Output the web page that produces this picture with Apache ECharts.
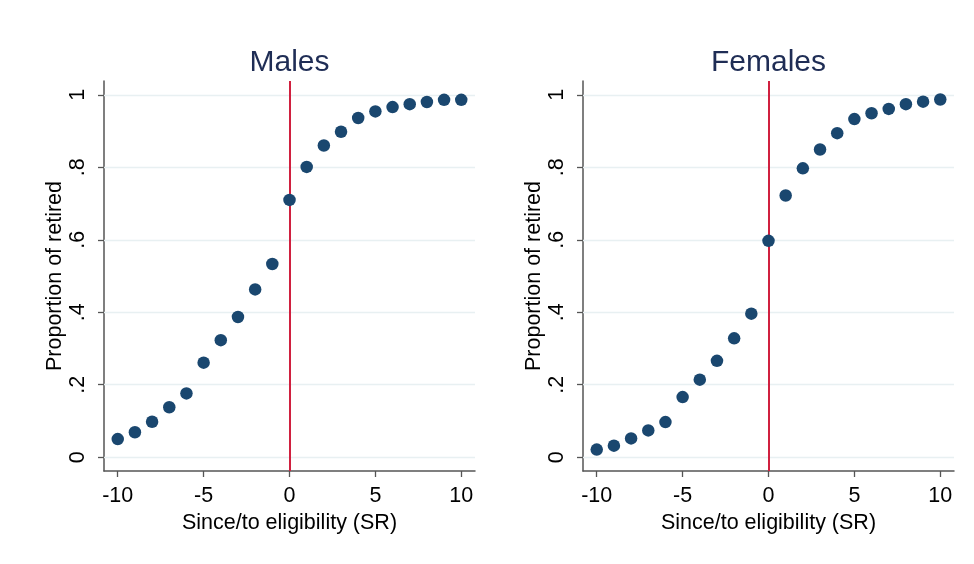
<!DOCTYPE html>
<html>
<head>
<meta charset="utf-8">
<script src="https://cdn.jsdelivr.net/npm/echarts@6/dist/echarts.min.js"></script>
<style>
  html, body { margin: 0; padding: 0; background: #fff; }
  #chart { width: 974px; height: 564px; }
</style>
</head>
<body>
<div id="chart"></div>
<script>
// Years since / to pension eligibility
const years = [-10, -9, -8, -7, -6, -5, -4, -3, -2, -1, 0, 1, 2, 3, 4, 5, 6, 7, 8, 9, 10];
// Share retired by year, per sex
const males = [0.050, 0.069, 0.098, 0.138, 0.176, 0.261, 0.323, 0.387, 0.463, 0.533,
               0.710, 0.801, 0.860, 0.898, 0.936, 0.954, 0.966, 0.974, 0.980, 0.986, 0.986];
const females = [0.021, 0.032, 0.052, 0.074, 0.097, 0.166, 0.214, 0.266, 0.328, 0.396,
                 0.597, 0.722, 0.797, 0.849, 0.894, 0.933, 0.949, 0.961, 0.974, 0.981, 0.987];
const panelTitles = ['Males', 'Females'];
const xTicks = [-10, -5, 0, 5, 10];
const yTicks = [0, 0.2, 0.4, 0.6, 0.8, 1];
const xAxisTitle = 'Since/to eligibility (SR)';
const yAxisTitle = 'Proportion of retired';
const cutoff = 0;

const font = 'Liberation Sans, Arial, sans-serif';
const axisColor = '#555555';
const navy = '#1a476f';

const grids = [
  { left: 104, width: 371, top: 81, bottom: 93 },
  { left: 583, width: 371, top: 81, bottom: 93 }
];

function fmtY(v) {
  if (v === 0) return '0';
  if (v === 1) return '1';
  return String(+v.toFixed(1)).replace(/^0/, '');
}

const xAxes = grids.map((g, i) => ({
  type: 'value', gridIndex: i, min: -10.8, max: 10.8,
  axisLine: { show: true, onZero: false, lineStyle: { color: axisColor, width: 1.5 } },
  axisTick: { show: true, customValues: xTicks, length: 6, lineStyle: { color: axisColor, width: 1.3 } },
  axisLabel: { customValues: xTicks, fontSize: 21.5, color: '#000', fontFamily: font, margin: 14 },
  splitLine: { show: false },
  name: xAxisTitle, nameLocation: 'middle', nameGap: 38,
  nameTextStyle: { fontSize: 21.5, color: '#000', fontFamily: font }
}));

const yAxes = grids.map((g, i) => ({
  type: 'value', gridIndex: i, min: -0.038, max: 1.038,
  axisLine: { show: true, onZero: false, lineStyle: { color: axisColor, width: 1.5 } },
  axisTick: { show: true, customValues: yTicks, length: 6, lineStyle: { color: axisColor, width: 1.3 } },
  axisLabel: { customValues: yTicks, fontSize: 21.5, color: '#000', fontFamily: font, rotate: 90, margin: 15,
               formatter: fmtY },
  splitLine: { show: false },
  name: yAxisTitle, nameLocation: 'middle', nameGap: 38,
  nameTextStyle: { fontSize: 21.5, color: '#000', fontFamily: font }
}));

const series = [];
[males, females].forEach((vals, i) => {
  // horizontal reference grid and the eligibility cutoff line, kept beneath the markers
  series.push({
    type: 'scatter', xAxisIndex: i, yAxisIndex: i, data: [], zlevel: 0, z: 1, silent: true,
    markLine: {
      silent: true, symbol: 'none', animation: false, label: { show: false },
      data: yTicks.map(v => ({ yAxis: v, lineStyle: { color: '#e8f0f2', width: 1.4, type: 'solid' } }))
        .concat([{ xAxis: cutoff, lineStyle: { color: '#d0203f', width: 2, type: 'solid' } }])
    }
  });
  series.push({
    type: 'scatter', xAxisIndex: i, yAxisIndex: i, zlevel: 1, z: 3, symbol: 'circle', symbolSize: 12.5,
    itemStyle: { color: navy, opacity: 1 },
    data: years.map((x, k) => [x, vals[k]])
  });
});

const chart = echarts.init(document.getElementById('chart'), null, { renderer: 'canvas' });
chart.setOption({
  animation: false,
  backgroundColor: '#ffffff',
  title: panelTitles.map((t, i) => ({
    text: t, left: grids[i].left + grids[i].width / 2 - 5, top: 43, textAlign: 'center',
    textStyle: { fontSize: 30, fontWeight: 'normal', color: '#1f2d55', fontFamily: font }
  })),
  grid: grids,
  xAxis: xAxes,
  yAxis: yAxes,
  series: series
});
</script>
</body>
</html>
